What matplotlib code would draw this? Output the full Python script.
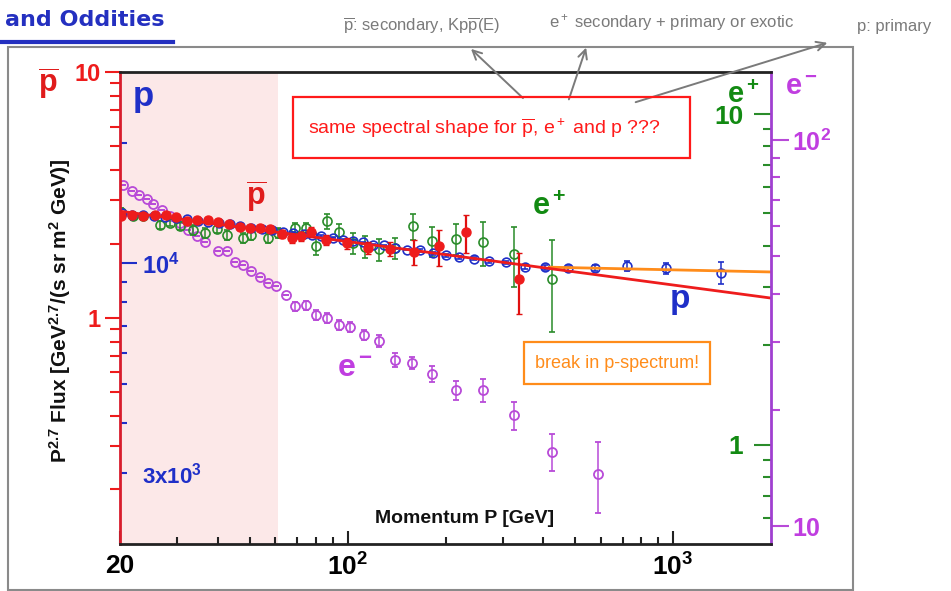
import matplotlib
matplotlib.use('Agg')
import matplotlib.pyplot as plt
from matplotlib.ticker import FixedLocator, FixedFormatter
from matplotlib.patches import Rectangle, FancyArrowPatch
from matplotlib.lines import Line2D

plt.rcParams['font.family'] = ['Liberation Sans', 'DejaVu Sans']
plt.rcParams['mathtext.fontset'] = 'custom'
plt.rcParams['mathtext.rm'] = 'Liberation Sans'
plt.rcParams['mathtext.bf'] = 'Liberation Sans:bold'
plt.rcParams['mathtext.it'] = 'Liberation Sans:italic'
plt.rcParams['mathtext.sf'] = 'Liberation Sans'

# ---------------- data ----------------
x_range = [20, 2000]
shade_range = [20, 61]

# antiprotons (left red axis)
pbar_P = [20.2, 21.8, 23.6, 25.6, 27.7, 29.8, 32.2, 34.6, 37.3, 40.0, 43.2, 46.7, 50.1, 53.8,
          57.7, 62.7, 67.3, 72.2, 77.5, 86.1, 99.9, 115.5, 134.7, 159.6, 190.7, 231.5, 335.7]
pbar_flux = [2.60, 2.62, 2.60, 2.61, 2.61, 2.57, 2.48, 2.50, 2.50, 2.46, 2.40, 2.34, 2.32, 2.32,
             2.30, 2.20, 2.11, 2.15, 2.24, 2.08, 2.01, 1.93, 1.91, 1.86, 1.95, 2.23, 1.44]
pbar_err = [0.05, 0.05, 0.05, 0.05, 0.05, 0.05, 0.06, 0.06, 0.06, 0.06, 0.06, 0.06, 0.06, 0.06,
            0.06, 0.08, 0.09, 0.09, 0.10, 0.10, 0.10, 0.11, 0.13, 0.22, 0.33, 0.40, 0.40]

# protons (blue axis)
p_P = [20.3, 21.8, 23.5, 25.4, 27.5, 29.7, 32.1, 34.7, 37.2, 40.2, 43.5, 46.7, 50.6, 54.5,
       58.5, 63.2, 67.9, 73.4, 77.6, 83.1, 90.1, 96.9, 103.9, 111.6, 120.1, 129.2, 140.4, 151.9,
       166.5, 182.5, 201.3, 220.8, 245.5, 272.9, 307.6, 351.9, 405.3, 476.9, 577.2, 722, 954, 1405]
p_flux = [13390, 13240, 13240, 13160, 13090, 13010, 12940, 12790, 12720, 12650, 12510, 12430,
          12290, 12220, 12150, 12010, 11940, 11875, 11805, 11690, 11605, 11470, 11360, 11280,
          11150, 11090, 10900, 10835, 10775, 10590, 10470, 10350, 10290, 10115, 10060, 9800,
          9790, 9720, 9756, 9846, 9720, 9482]
p_err = [60] * 28 + [80, 80, 90, 90, 100, 100, 110, 120, 130, 140, 160, 280, 330, 600]

# proton power-law fits (blue axis units)
fit_low_P = [20, 2000]
fit_low_flux = [13500, 8200]
fit_high_P = [417, 2000]
fit_high_flux = [9790, 9525]

# positrons (green axis)
ep_P = [20.2, 22.0, 23.6, 26.5, 28.5, 30.6, 33.6, 36.5, 39.6, 42.5, 47.8, 50.7, 57.0, 61.2,
        68.9, 74.4, 80.2, 86.6, 94.1, 103.9, 112.9, 124.6, 139.6, 158.8, 182.1, 215.7, 260.3,
        325.7, 425.8]
ep_flux = [5.07, 4.90, 4.90, 4.62, 4.69, 4.59, 4.46, 4.37, 4.50, 4.31, 4.21, 4.31, 4.21, 4.37,
           4.52, 4.52, 3.99, 4.73, 4.41, 4.07, 3.97, 3.90, 3.93, 4.57, 4.12, 4.19, 4.09, 3.78, 3.17]
ep_err = [0.12] * 6 + [0.15] * 10 + [0.25] * 3 + [0.30] * 4 + [0.42, 0.43, 0.45, 0.62, 0.78, 0.98]

# electrons (magenta axis)
em_P = [20.4, 21.7, 22.9, 24.15, 25.3, 26.85, 28.5, 30.55, 32.4, 34.4, 36.5, 40.05, 42.5, 45.1,
        47.8, 50.7, 53.75, 57.0, 60.5, 64.9, 68.9, 74.4, 80.2, 86.6, 94.0, 101.9, 112.1, 124.6,
        139.6, 157.9, 182.1, 215.7, 260.3, 325.7, 425.0, 586.7]
em_flux = [76.5, 74.0, 72.1, 70.3, 68.2, 65.9, 63.4, 60.9, 58.5, 56.5, 54.6, 51.5, 51.5, 48.2,
           47.5, 45.7, 44.3, 42.6, 41.8, 39.8, 37.1, 37.3, 35.3, 34.6, 33.2, 32.9, 31.3, 30.2,
           27.0, 26.5, 24.8, 22.5, 22.5, 19.4, 15.6, 13.7]
em_err = [0.0] * 20 + [1.0, 1.0, 1.0, 1.0, 1.0, 1.0, 1.0, 1.0, 1.1, 1.0, 1.15, 1.3, 1.55, 1.63,
                       1.73, 2.85]

# axis scales
pbar_ylim = [0.12, 10]
p_ylim = [2000, 30000]
ep_ylim = [0.5, 13.4]
em_ylim = [9, 150]

x_major = [20, 100, 1000]
x_major_labels = ['20', r'$\mathbf{10^2}$', r'$\mathbf{10^3}$']
x_minor = [30, 40, 50, 60, 70, 80, 90, 200, 300, 400, 500, 600, 700, 800, 900]

pbar_major = [1, 10]
pbar_major_labels = ['1', '10']
pbar_minor = [0.2, 0.3, 0.4, 0.5, 0.6, 0.7, 0.8, 0.9, 2, 3, 4, 5, 6, 7, 8, 9]

p_major = [10000]
p_major_labels = [r'$\mathbf{10^4}$']
p_minor = [3000, 4000, 5000, 6000, 7000, 8000, 9000, 20000]
p_minor_labels = [r'$\mathbf{3x10^3}$', '', '', '', '', '', '', '']

ep_major = [1, 10]
ep_major_labels = ['1', '10']
ep_minor = [0.6, 0.7, 0.8, 0.9, 2, 3, 4, 5, 6, 7, 8, 9]

em_major = [10, 100]
em_major_labels = [r'$\mathbf{10}$', r'$\mathbf{10^2}$']
em_minor = [20, 30, 40, 50, 60, 70, 80, 90]

# ---------------- colours ----------------
RED = '#ee1c1c'
BLUE = '#1f2fc8'
GREEN = '#2a8c2a'
GREEN_T = '#128a12'
MAG = '#b84ad8'
MAG_T = '#c03ee0'
ORANGE = '#ff8c1a'
GRAY = '#7a7a7a'

W_PX, H_PX = 951, 591
fig = plt.figure(figsize=(W_PX / 100, H_PX / 100), dpi=100)


def fx(x):
    return x / W_PX


def fy(y):
    return 1 - y / H_PX


rect = [fx(120), fy(544), fx(771) - fx(120), fy(72) - fy(544)]
axm = fig.add_axes(rect)
axe = fig.add_axes(rect, sharex=axm)
axp = fig.add_axes(rect, sharex=axm)
ax = fig.add_axes(rect, sharex=axm)
for z, a in enumerate([axm, axe, axp, ax]):
    a.set_zorder(z + 1)
    if a is not axm:
        a.patch.set_visible(False)
    for s in a.spines.values():
        s.set_visible(False)

axm.set_xscale('log')
axm.set_xlim(*x_range)
axm.axvspan(*shade_range, color='#fce8e8', lw=0, zorder=0)

for a, lim in [(ax, pbar_ylim), (axp, p_ylim), (axe, ep_ylim), (axm, em_ylim)]:
    a.set_yscale('log')
    a.set_ylim(*lim)

# spines on top axes
for side, col in [('left', '#d81c2c'), ('bottom', '#222222'), ('top', '#222222'), ('right', '#a040d0')]:
    ax.spines[side].set_visible(True)
    ax.spines[side].set_color(col)
    ax.spines[side].set_linewidth(2)

# x axis ticks (on ax)
ax.xaxis.set_major_locator(FixedLocator(x_major))
ax.xaxis.set_major_formatter(FixedFormatter(x_major_labels))
ax.xaxis.set_minor_locator(FixedLocator(x_minor))
ax.xaxis.set_minor_formatter(FixedFormatter([''] * len(x_minor)))
ax.tick_params(axis='x', which='major', direction='in', length=9.5, width=1.5, color='#222222',
               pad=7, labelsize=19, top=False)
ax.tick_params(axis='x', which='minor', direction='in', length=5, width=1.5, color='#222222', top=False)
for lbl in ax.get_xticklabels():
    lbl.set_fontweight('bold')
for a in [axm, axe, axp]:
    a.tick_params(axis='x', which='both', bottom=False, top=False, labelbottom=False)

# red pbar axis (left, outward)
ax.yaxis.set_major_locator(FixedLocator(pbar_major))
ax.yaxis.set_major_formatter(FixedFormatter(pbar_major_labels))
ax.yaxis.set_minor_locator(FixedLocator(pbar_minor))
ax.yaxis.set_minor_formatter(FixedFormatter([''] * len(pbar_minor)))
ax.tick_params(axis='y', which='major', direction='out', length=11, width=1.5, color=RED,
               labelcolor=RED, labelsize=17, pad=3, right=False)
ax.tick_params(axis='y', which='minor', direction='out', length=7, width=1.5, color=RED, right=False)
for lbl in ax.get_yticklabels():
    lbl.set_fontweight('bold')

# blue p axis (left, inward, labels inside)
axp.yaxis.tick_left()
axp.yaxis.set_major_locator(FixedLocator(p_major))
axp.yaxis.set_major_formatter(FixedFormatter(p_major_labels))
axp.yaxis.set_minor_locator(FixedLocator(p_minor))
axp.yaxis.set_minor_formatter(FixedFormatter(p_minor_labels))
axp.tick_params(axis='y', which='major', direction='in', length=12, width=1.5, color=BLUE,
                labelcolor=BLUE, labelsize=17, pad=-16, right=False)
axp.tick_params(axis='y', which='minor', direction='in', length=5, width=1.5, color=BLUE,
                labelcolor=BLUE, labelsize=16, pad=-16, right=False)
for lbl in axp.get_yticklabels(which='both'):
    lbl.set_horizontalalignment('left')

# green e+ axis (right, inward, labels inside)
axe.yaxis.tick_right()
axe.yaxis.set_major_locator(FixedLocator(ep_major))
axe.yaxis.set_major_formatter(FixedFormatter(ep_major_labels))
axe.yaxis.set_minor_locator(FixedLocator(ep_minor))
axe.yaxis.set_minor_formatter(FixedFormatter([''] * len(ep_minor)))
axe.tick_params(axis='y', which='major', direction='in', length=12.5, width=1.5, color=GREEN,
                labelcolor=GREEN_T, labelsize=19, pad=-20, left=False)
axe.tick_params(axis='y', which='minor', direction='in', length=6, width=1.5, color=GREEN, left=False)
for lbl in axe.get_yticklabels():
    lbl.set_horizontalalignment('right')
    lbl.set_fontweight('bold')

# magenta e- axis (right, outward)
axm.yaxis.tick_right()
axm.yaxis.set_major_locator(FixedLocator(em_major))
axm.yaxis.set_major_formatter(FixedFormatter(em_major_labels))
axm.yaxis.set_minor_locator(FixedLocator(em_minor))
axm.yaxis.set_minor_formatter(FixedFormatter([''] * len(em_minor)))
axm.tick_params(axis='y', which='major', direction='out', length=13, width=1.5, color=MAG,
                labelcolor=MAG_T, labelsize=18, pad=2, left=False)
axm.tick_params(axis='y', which='minor', direction='out', length=6.5, width=1.5, color=MAG, left=False)

# ---------------- data drawing ----------------
axm.errorbar(em_P, em_flux, yerr=em_err, fmt='o', ms=6.5, mfc='none', mec=MAG, mew=1.3,
             ecolor=MAG, elinewidth=1.1, capsize=2, zorder=3)
axe.errorbar(ep_P, ep_flux, yerr=ep_err, fmt='o', ms=6.5, mfc='none', mec=GREEN, mew=1.2,
             ecolor=GREEN, elinewidth=1.1, capsize=2, zorder=3)
axp.errorbar(p_P, p_flux, yerr=p_err, fmt='o', ms=6.3, mfc='none', mec=BLUE, mew=1.2,
             ecolor=BLUE, elinewidth=1.1, capsize=2, zorder=3)
axp.plot(fit_high_P, fit_high_flux, color=ORANGE, lw=2, zorder=4)
axp.plot(fit_low_P, fit_low_flux, color=RED, lw=2, zorder=5)
ax.errorbar(pbar_P, pbar_flux, yerr=pbar_err, fmt='o', ms=6.5, mfc=RED, mec=RED,
            ecolor='#e01010', elinewidth=1.6, capsize=2, zorder=3)

# ---------------- labels ----------------
ax.text(0.530, 0.053, 'Momentum P [GeV]', transform=ax.transAxes, ha='center', va='center',
        fontsize=14, fontweight='bold', color='#111111', zorder=10)
fig.text(fx(60), fy(311), r'$\mathbf{P^{2.7}}$ Flux [GeV$^{\mathbf{2.7}}$/(s sr m$^{\mathbf{2}}$ GeV)]',
         rotation=90, ha='center', va='center', fontsize=15, fontweight='bold', color='#111111')

ax.text(0.036, 0.948, 'p', transform=ax.transAxes, ha='center', va='center', fontsize=25,
        fontweight='bold', color=BLUE)
ax.text(0.210, 0.735, r'$\mathbf{\overline{p}}$', transform=ax.transAxes, ha='center', va='center',
        fontsize=22, color='#e01c1c')
ax.text(0.660, 0.715, r'$\mathbf{e^+}$', transform=ax.transAxes, ha='center', va='center',
        fontsize=22, color=GREEN_T)
ax.text(0.860, 0.518, 'p', transform=ax.transAxes, ha='center', va='center', fontsize=24,
        fontweight='bold', color=BLUE)
ax.text(0.361, 0.372, r'$\mathbf{e^-}$', transform=ax.transAxes, ha='center', va='center',
        fontsize=23, color=MAG_T)
ax.text(0.958, 0.952, r'$\mathbf{e^+}$', transform=ax.transAxes, ha='center', va='center',
        fontsize=21, color=GREEN_T)
fig.text(fx(801), fy(87), r'$\mathbf{e^-}$', ha='center', va='center', fontsize=21, color=MAG_T)
fig.text(fx(48), fy(84), r'$\mathbf{\overline{p}}$', ha='center', va='center', fontsize=22,
         color='#e01c1c')

# ---------------- annotations ----------------
frame = Rectangle((fx(8), fy(590)), fx(853) - fx(8), fy(47) - fy(590), transform=fig.transFigure,
                  fill=False, edgecolor='#8a8a8a', lw=1.5, zorder=0)
fig.add_artist(frame)

fig.text(fx(5), fy(20), 'and Oddities', ha='left', va='center', fontsize=16, color='#2430c0',
         fontweight='bold', family=['DejaVu Sans'])
fig.add_artist(Line2D([fx(0), fx(173)], [fy(42), fy(42)], transform=fig.transFigure,
                      color='#2430c0', lw=3))

fig.text(fx(422), fy(26), r'$\overline{\mathrm{p}}$: secondary, Kp$\overline{\mathrm{p}}$(E)',
         ha='center', va='center', fontsize=12, color=GRAY)
fig.text(fx(672), fy(23), r'e$^+$ secondary + primary or exotic', ha='center', va='center',
         fontsize=12, color=GRAY)
fig.text(fx(894), fy(26), 'p: primary', ha='center', va='center', fontsize=12, color=GRAY)

for (x0, y0), (x1, y1) in [((525, 100), (469, 47)), ((568, 102), (587, 45)), ((633, 103), (830, 42))]:
    fig.add_artist(FancyArrowPatch((fx(x0), fy(y0)), (fx(x1), fy(y1)), transform=fig.transFigure,
                                   arrowstyle='->', mutation_scale=16, color=GRAY, lw=1.4, zorder=11))

fig.add_artist(Rectangle((fx(293), fy(158)), fx(690) - fx(293), fy(97) - fy(158),
                         transform=fig.transFigure, fill=False, edgecolor='#ff1a1a', lw=1.6, zorder=12))
fig.text(fx(484), fy(128), r'same spectral shape for $\overline{\mathrm{p}}$, e$^+$ and p ???',
         ha='center', va='center', fontsize=14, color='#ff1a1a', zorder=12)

fig.add_artist(Rectangle((fx(524), fy(384)), fx(710) - fx(524), fy(342) - fy(384),
                         transform=fig.transFigure, fill=False, edgecolor=ORANGE, lw=1.6, zorder=12))
fig.text(fx(617), fy(363), 'break in p-spectrum!', ha='center', va='center', fontsize=13,
         color=ORANGE, zorder=12)

fig.savefig('out.png', dpi=100)
